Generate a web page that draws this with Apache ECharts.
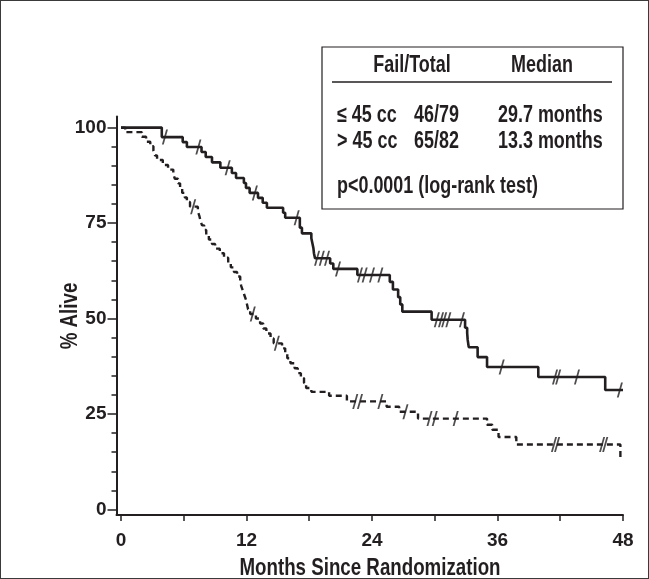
<!DOCTYPE html>
<html><head><meta charset="utf-8">
<script src="https://cdn.jsdelivr.net/npm/echarts@6/dist/echarts.min.js"></script>
<style>
html,body{margin:0;padding:0;background:#fff;}
#wrap{position:relative;width:649px;height:579px;}
#chart{width:649px;height:579px;}
#frame{position:absolute;left:0;top:0;width:649px;height:579px;box-sizing:border-box;border:1px solid #3a3a3a;pointer-events:none;}
</style></head><body>
<div id="wrap"><div id="chart"></div><div id="frame"></div></div>
<script>
// ≤ 45 cc (solid) Kaplan-Meier steps: month of drop, % alive after drop
const smallMonths = [0, 3.9, 5.9, 6.3, 7.7, 8.1, 8.7, 9.5, 10.6, 11.0, 11.75, 11.95, 12.3, 13.1, 13.55, 13.95, 15.5, 15.7, 17.1, 17.3, 18.2, 18.3, 18.4, 18.45, 18.55, 20.0, 20.3, 22.6, 25.7, 26.0, 26.5, 26.7, 26.9, 29.7, 32.9, 33.1, 33.15, 33.25, 34.1, 35.0, 39.9, 46.3, 48];
const smallAlive  = [100, 97.5, 96.2, 94.9, 93.6, 92.3, 90.9, 89.5, 88.1, 86.8, 85.5, 84.2, 82.9, 81.6, 80.3, 79.0, 77.7, 76.4, 73.8, 72.3, 71.0, 69.7, 68.4, 67.1, 65.8, 64.4, 63.0, 61.4, 59.6, 57.6, 55.6, 53.7, 51.8, 49.7, 47.6, 46.2, 44.4, 42.5, 39.9, 37.3, 34.7, 31.3, 31.3];
const smallCensored = [4.2, 7.4, 10.2, 12.8, 16.8, 18.75, 19.2, 19.7, 20.75, 22.85, 23.3, 24.0, 24.8, 30.2, 30.6, 30.9, 31.3, 32.6, 36.4, 41.5, 41.8, 43.6, 47.7];

// > 45 cc (dashed)
const largeMonths = [0, 0.4, 2.0, 2.4, 2.8, 3.1, 3.25, 3.45, 4.0, 4.5, 5.0, 5.15, 5.45, 5.65, 5.85, 6.1, 6.3, 6.6, 7.35, 7.5, 7.6, 7.75, 7.95, 8.15, 8.4, 8.7, 9.0, 9.45, 9.85, 10.25, 10.5, 10.8, 11.1, 11.4, 11.5, 11.65, 11.8, 11.95, 12.05, 12.15, 12.35, 12.9, 13.3, 13.6, 13.9, 14.3, 14.6, 15.4, 15.7, 15.9, 16.2, 16.6, 16.9, 17.2, 17.5, 17.7, 18.2, 19.9, 21.6, 25.4, 26.6, 28.4, 35.0, 35.5, 36.1, 37.8, 47.75];
const largeAlive  = [100, 98.8, 97.6, 96.3, 95.1, 93.9, 92.7, 91.5, 90.2, 89.0, 87.8, 86.6, 85.4, 84.1, 82.9, 81.7, 80.5, 79.3, 78.0, 76.8, 75.6, 74.4, 73.2, 72.0, 70.7, 69.5, 68.3, 67.1, 65.9, 64.6, 63.4, 62.2, 61.0, 59.8, 58.5, 57.3, 56.1, 54.9, 53.7, 52.4, 51.2, 50.0, 48.7, 47.4, 46.1, 44.8, 43.5, 42.2, 40.9, 39.6, 38.3, 37.0, 35.7, 34.4, 33.1, 31.8, 30.8, 29.8, 28.3, 26.9, 25.6, 23.8, 22.2, 20.9, 19.0, 17.0, 13.0];
const largeCensored = [6.9, 12.6, 14.9, 22.4, 22.85, 24.8, 27.2, 29.5, 30.0, 32.0, 41.4, 41.7, 46.0, 46.3];

// axis ticks / labels
const xTickValues  = [0, 6, 12, 18, 24, 30, 36, 42, 48];
const xLabelValues = [0, 12, 24, 36, 48];
const yMajorValues = [0, 25, 50, 75, 100];
const yMinorValues = [5, 10, 15, 20, 30, 35, 40, 45, 55, 60, 65, 70, 80, 85, 90, 95];
const xTitle = 'Months Since Randomization';
const yTitle = '% Alive';

// legend table text
const tableHeader = ['Fail/Total', 'Median'];
const groupNames  = ['\u2264 45 cc', '> 45 cc'];
const failTotals  = ['46/79', '65/82'];
const medians     = ['29.7 months', '13.3 months'];
const testNote    = 'p<0.0001 (log-rank test)';

const INK = '#231f20';
const FONT = '"Liberation Sans", Arial, sans-serif';
const NARROW = 0.78;

function levelAt(months, alive, t) {
  let v = alive[0];
  for (let i = 0; i < months.length; i++) { if (months[i] <= t) v = alive[i]; }
  return v;
}
const pairs = (a, b) => a.map((m, i) => [m, b[i]]);
const censorPts = (c, months, alive) => c.map(t => [t, levelAt(months, alive, t)]);

const slash = 'path://M4.2,0 L6,0 L1.8,15 L0,15 Z';

const chart = echarts.init(document.getElementById('chart'), null, {renderer: 'canvas'});

const tx = (x, y, text, align, size, rot) => ({
  type: 'text', x: x, y: y, scaleX: NARROW, rotation: rot || 0, z: 11,
  style: {text: text, fill: INK, font: 'bold ' + size + 'px ' + FONT, textAlign: align || 'left', textVerticalAlign: 'middle'}
});
const texts = [];
texts.push(tx(412, 66, tableHeader[0], 'center', 23));
texts.push(tx(542, 66, tableHeader[1], 'center', 23));
const rowY = [116, 142];
groupNames.forEach((g, i) => {
  texts.push(tx(337, rowY[i], g, 'left', 23));
  texts.push(tx(414, rowY[i], failTotals[i], 'left', 23));
  texts.push(tx(498, rowY[i], medians[i], 'left', 23));
});
texts.push(tx(337, 187, testNote, 'left', 23));
texts.push(tx(370, 568, xTitle, 'center', 24));
texts.push(tx(70, 316, yTitle, 'center', 24, Math.PI / 2));

chart.setOption({
  animation: false,
  backgroundColor: '#fff',
  grid: {left: 116.5, right: 26, top: 116.5, bottom: 64},
  xAxis: {
    type: 'value', min: -0.43, max: 48,
    axisLine: {show: true, onZero: false, lineStyle: {color: INK, width: 2}},
    axisTick: {show: true, customValues: xTickValues, length: 6, lineStyle: {color: INK, width: 1.5}},
    axisLabel: {customValues: xLabelValues, margin: 16, fontSize: 19, fontWeight: 'bold', color: INK, fontFamily: FONT},
    splitLine: {show: false}
  },
  yAxis: [{
    type: 'value', min: -1.44, max: 102.9, position: 'left',
    axisLine: {show: true, onZero: false, lineStyle: {color: INK, width: 2}},
    axisTick: {show: true, customValues: yMajorValues, length: 9, lineStyle: {color: INK, width: 1.5}},
    axisLabel: {customValues: yMajorValues, margin: 10, fontSize: 19, fontWeight: 'bold', color: INK, fontFamily: FONT},
    splitLine: {show: false}
  }, {
    type: 'value', min: -1.44, max: 102.9, position: 'left',
    axisLine: {show: false, onZero: false},
    axisTick: {show: true, customValues: yMinorValues, length: 5, lineStyle: {color: INK, width: 1.5}},
    axisLabel: {show: false},
    splitLine: {show: false}
  }],
  series: [{
    name: '\u2264 45 cc', type: 'line', step: 'end', showSymbol: false, silent: true,
    data: pairs(smallMonths, smallAlive),
    lineStyle: {color: INK, width: 2.6}
  }, {
    name: '> 45 cc', type: 'line', step: 'end', showSymbol: false, silent: true,
    data: pairs(largeMonths, largeAlive),
    lineStyle: {color: INK, width: 2.4, type: [6, 4]}
  }, {
    type: 'scatter', silent: true, symbol: slash, symbolSize: [6, 15],
    data: censorPts(smallCensored, smallMonths, smallAlive),
    itemStyle: {color: INK}
  }, {
    type: 'scatter', silent: true, symbol: slash, symbolSize: [6, 15],
    data: censorPts(largeCensored, largeMonths, largeAlive),
    itemStyle: {color: INK}
  }],
  graphic: [
    {type: 'rect', shape: {x: 322, y: 47, width: 301, height: 162}, style: {fill: '#fff', stroke: INK, lineWidth: 1.2}, z: 10},
    {type: 'line', shape: {x1: 332, y1: 82, x2: 612, y2: 82}, style: {stroke: INK, lineWidth: 1.5}, z: 11}
  ].concat(texts)
});
</script>
</body></html>
